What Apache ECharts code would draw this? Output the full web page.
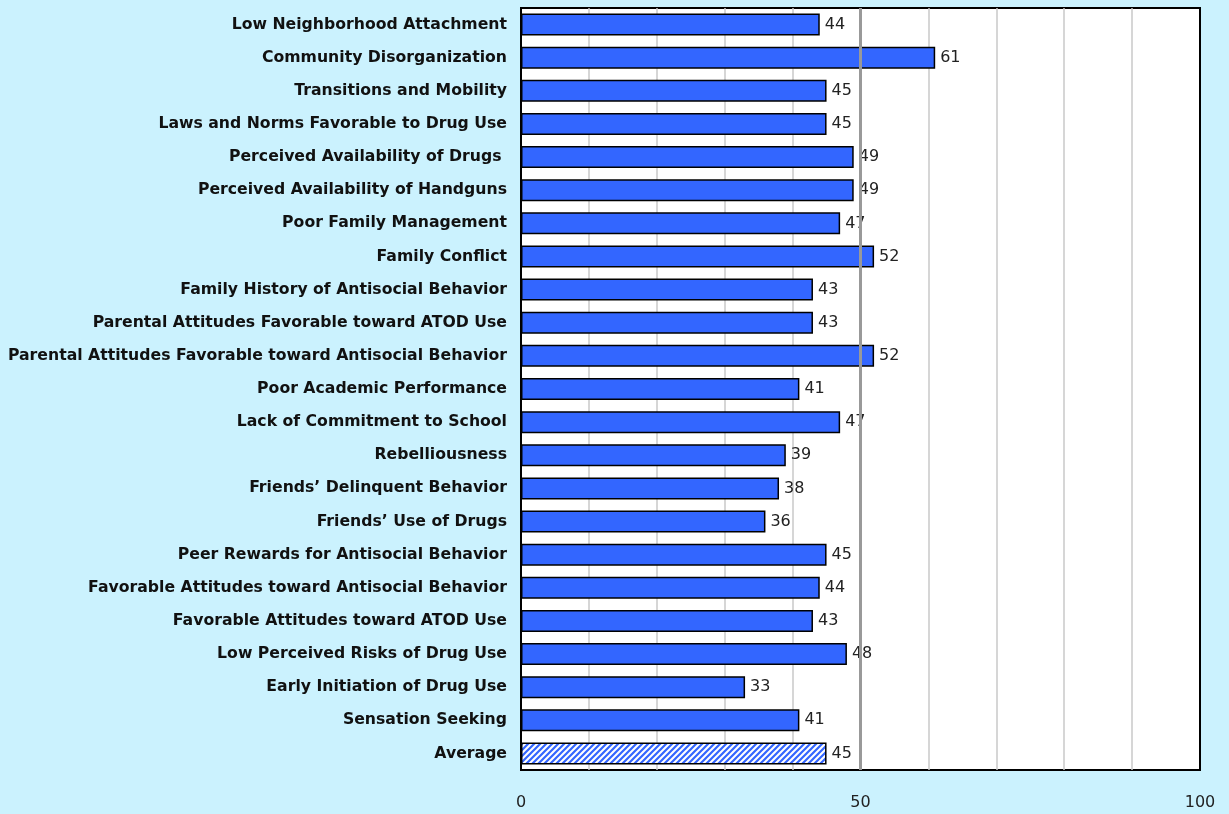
<!DOCTYPE html>
<html>
<head>
<meta charset="utf-8">
<script src="https://cdn.jsdelivr.net/npm/echarts@6/dist/echarts.min.js"></script>
<style>
  html, body { margin: 0; padding: 0; background: #cbf2fe; }
  #chart { width: 1229px; height: 814px; }
</style>
</head>
<body>
<div id="chart"></div>
<script>
// risk factor scale names, top to bottom
const categories = [
  'Low Neighborhood Attachment',
  'Community Disorganization',
  'Transitions and Mobility',
  'Laws and Norms Favorable to Drug Use',
  'Perceived Availability of Drugs ',
  'Perceived Availability of Handguns',
  'Poor Family Management',
  'Family Conflict',
  'Family History of Antisocial Behavior',
  'Parental Attitudes Favorable toward ATOD Use',
  'Parental Attitudes Favorable toward Antisocial Behavior',
  'Poor Academic Performance',
  'Lack of Commitment to School',
  'Rebelliousness',
  'Friends\u2019 Delinquent Behavior',
  'Friends\u2019 Use of Drugs',
  'Peer Rewards for Antisocial Behavior',
  'Favorable Attitudes toward Antisocial Behavior',
  'Favorable Attitudes toward ATOD Use',
  'Low Perceived Risks of Drug Use',
  'Early Initiation of Drug Use',
  'Sensation Seeking',
  'Average'
];
const values = [44, 61, 45, 45, 49, 49, 47, 52, 43, 43, 52, 41, 47, 39, 38, 36, 45, 44, 43, 48, 33, 41, 45];
const xTicks = [0, 50, 100];

// hatch fill for the average bar
function makeHatch() {
  const c = document.createElement('canvas');
  c.width = 6; c.height = 6;
  const ctx = c.getContext('2d');
  ctx.fillStyle = '#ffffff';
  ctx.fillRect(0, 0, 6, 6);
  ctx.strokeStyle = '#3366ff';
  ctx.lineWidth = 2.2;
  ctx.beginPath();
  ctx.moveTo(-1, 7); ctx.lineTo(7, -1);
  ctx.moveTo(-4, 4); ctx.lineTo(4, -4);
  ctx.moveTo(2, 10); ctx.lineTo(10, 2);
  ctx.stroke();
  return c;
}

const chart = echarts.init(document.getElementById('chart'));
const hatch = makeHatch();

const barData = values.map((v, i) => {
  if (categories[i] === 'Average') {
    return { value: v, itemStyle: { color: { image: hatch, repeat: 'repeat' } } };
  }
  return v;
});

// grid line colours for 0,10,...,100 (edges black, 50 darker)
const gridColors = ['#000', '#c8c8c8', '#c8c8c8', '#c8c8c8', '#c8c8c8', '#999',
  '#c8c8c8', '#c8c8c8', '#c8c8c8', '#c8c8c8', '#000'];

chart.setOption({
  backgroundColor: '#cbf2fe',
  animation: false,
  grid: {
    left: 521, right: 29, top: 8, bottom: 44,
    show: true,
    backgroundColor: '#ffffff',
    borderColor: '#000000',
    borderWidth: 2
  },
  xAxis: {
    type: 'value',
    min: 0, max: 100, interval: 10,
    axisLine: { show: false },
    axisTick: { show: false },
    axisLabel: {
      margin: 25,
      fontFamily: 'DejaVu Sans',
      fontSize: 16,
      color: '#222',
      formatter: v => xTicks.includes(v) ? String(v) : ''
    },
    splitLine: { show: true, lineStyle: { color: gridColors, width: 1.5 } }
  },
  yAxis: {
    type: 'category',
    data: categories,
    inverse: true,
    axisLine: { show: false },
    axisTick: { show: false },
    axisLabel: {
      margin: 14,
      fontFamily: 'DejaVu Sans',
      fontWeight: 'bold',
      fontSize: 15.7,
      color: '#111'
    }
  },
  series: [
    {
      type: 'bar',
      z: 1,
      data: [],
      silent: true,
      markLine: {
        silent: true,
        symbol: 'none',
        label: { show: false },
        lineStyle: { color: '#999999', width: 3, type: 'solid' },
        data: [{ xAxis: 50 }]
      }
    },
    {
      type: 'bar',
      z: 3,
      barWidth: 22,
      barGap: '-100%',
      data: barData,
      itemStyle: { color: '#3366ff', borderColor: '#000000', borderWidth: 1.5 },
      label: {
        show: true,
        position: 'right',
        distance: 5,
        fontFamily: 'DejaVu Sans',
        fontSize: 16,
        color: '#222'
      }
    }
  ]
});
</script>
</body>
</html>
